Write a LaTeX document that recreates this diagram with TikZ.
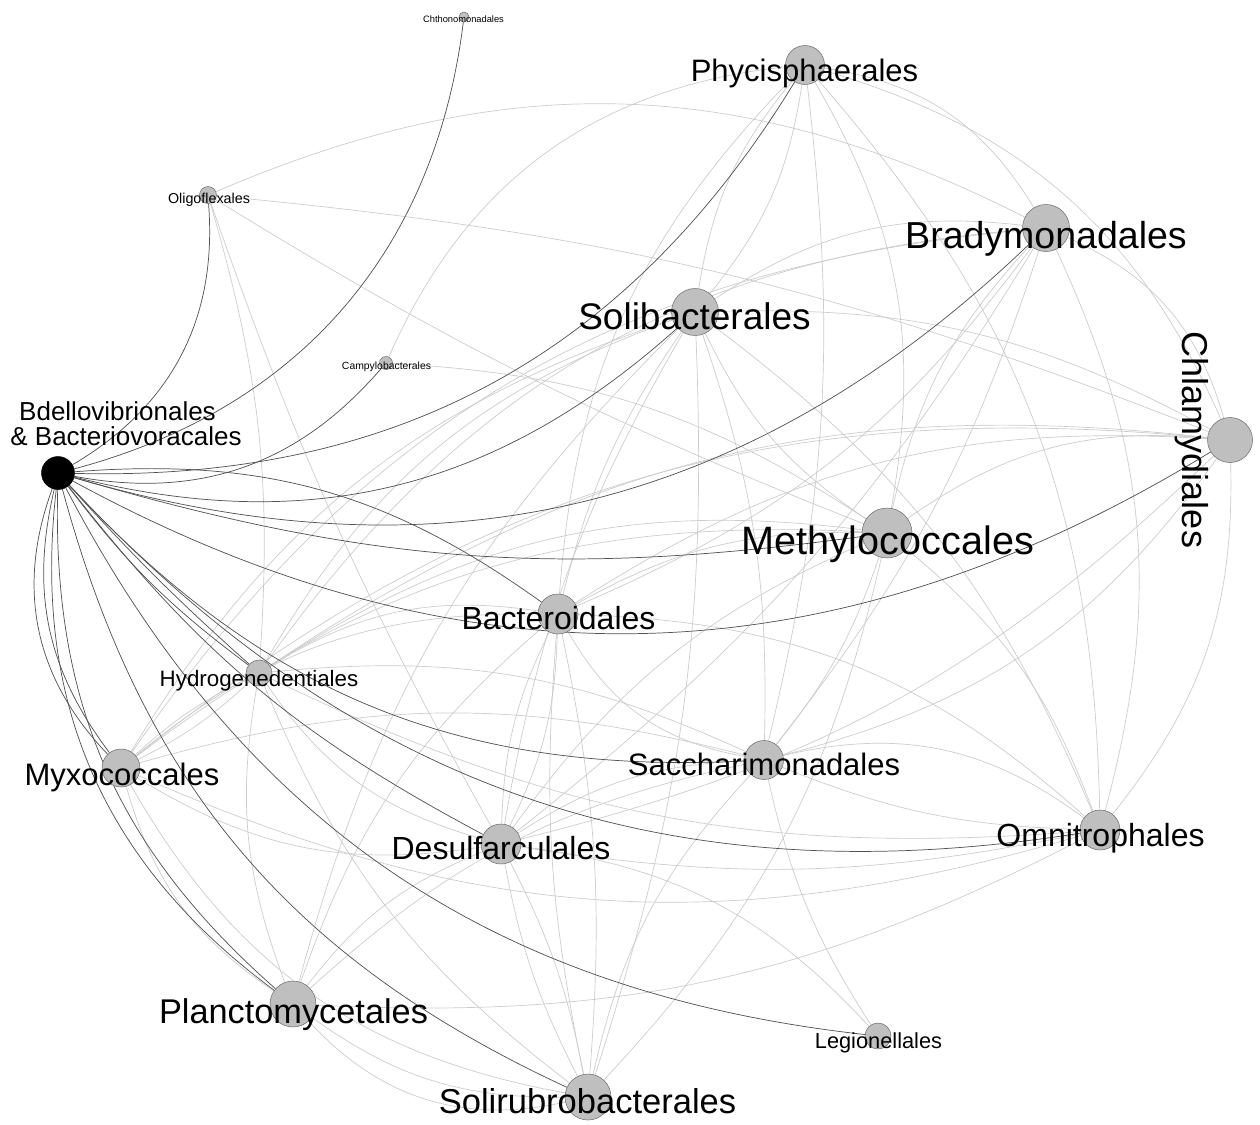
\documentclass[tikz,border=0pt]{standalone}
\usepackage{fontspec}
\setmainfont{Liberation Sans}
\pgfdeclarelayer{bg}
\pgfsetlayers{bg,main}
\tikzset{
  nd/.style={circle, fill=black!25, draw=black!60, line width=0.12pt, inner sep=0pt},
  le/.style={draw=black!20, line width=0.17pt},
  de/.style={draw=black!68, line width=0.18pt},
  lab/.style={anchor=base, inner sep=0pt, text=black}
}
\newcommand{\fs}[1]{\fontsize{#1}{#1}\selectfont}
\begin{document}
\begin{tikzpicture}[x=0.25pt,y=-0.25pt]
\useasboundingbox (0,0) rectangle (1260,1124);
% nodes (circles)
\node[nd, minimum size=2.5pt] (C0) at (464,17) {};
\node[nd, minimum size=9.75pt] (P) at (805,65) {};
\node[nd, minimum size=4.25pt] (O) at (208,195) {};
\node[nd, minimum size=11.75pt] (Br) at (1046,228) {};
\node[nd, minimum size=11.75pt] (So) at (695,312) {};
\node[nd, minimum size=3.25pt] (Ca) at (386,363) {};
\node[nd, minimum size=11.25pt] (Ch) at (1230,440) {};
\node[nd, minimum size=8.25pt, fill=black, draw=black] (B) at (58,473) {};
\node[nd, minimum size=12.5pt] (Me) at (887,533) {};
\node[nd, minimum size=10pt] (Ba) at (558,614) {};
\node[nd, minimum size=6.5pt] (H) at (259,673) {};
\node[nd, minimum size=9.5pt] (My) at (121,768) {};
\node[nd, minimum size=9.75pt] (Sa) at (764,760) {};
\node[nd, minimum size=10pt] (Om) at (1100,830) {};
\node[nd, minimum size=10pt] (D) at (501,844) {};
\node[nd, minimum size=11.5pt] (Pl) at (293,1004) {};
\node[nd, minimum size=6.5pt] (L) at (878,1036) {};
\node[nd, minimum size=11.5pt] (Sr) at (588,1097) {};
\begin{pgfonlayer}{bg}
\fill[white] (0,0) rectangle (1260,1124);
% light edges
\draw[le] (Br) to[bend right=25] (O);
\draw[le] (Ch) to[bend right=25] (P);
\draw[le] (Br) to[bend right=25] (P);
\draw[le] (Ch) to[bend right=25] (Br);
\draw[le] (Om) to[bend right=20] (Ch);
\draw[le] (Om) to[bend right=20] (Br);
\draw[le] (Pl) to[bend right=30] (Sr);
\draw[le] (Pl) to[bend right=18] (Sr);
\draw[le] (My) to[bend right=20] (Pl);
\draw[le] (P) to[bend right=15] (So);
\draw[le] (So) to[bend right=15] (P);
\draw[le] (P) to[bend right=20] (Ba);
\draw[le] (Me) to[bend right=20] (P);
\draw[le] (P) to[bend left=10] (Sa);
\draw[le] (P) to[bend left=20] (Om);
\draw[le] (Ca) to[bend left=30] (P);
\draw[le] (Br) to[bend right=25] (H);
\draw[le] (Br) to[bend right=25] (My);
\draw[le] (Br) to[bend right=20] (So);
\draw[le] (Br) to[bend right=15] (Me);
\draw[le] (Br) to[bend left=10] (Sa);
\draw[le] (Br) to[bend left=15] (Ba);
\draw[le] (Br) to[bend left=10] (D);
\draw[le] (Ch) to[bend right=15] (So);
\draw[le] (Ch) to[bend right=20] (Me);
\draw[le] (Ch) to[bend right=18] (Ba);
\draw[le] (Ch) to[bend right=20] (H);
\draw[le] (Ch) to[bend right=22] (My);
\draw[le] (Ch) to[bend left=15] (D);
\draw[le] (Ch) to[bend left=20] (Sa);
\draw[le] (Me) to[bend right=15] (Ba);
\draw[le] (Me) to[bend left=10] (Sa);
\draw[le] (Om) to[bend right=15] (Me);
\draw[le] (Me) to[bend right=15] (D);
\draw[le] (Me) to[bend right=20] (H);
\draw[le] (Me) to[bend left=15] (Sr);
\draw[le] (Me) to[bend right=20] (My);
\draw[le] (Ba) to[bend right=25] (Sa);
\draw[le] (Ba) to[bend right=12] (D);
\draw[le] (D) to[bend right=12] (Ba);
\draw[le] (Ba) to[bend right=8] (Sr);
\draw[le] (Sr) to[bend right=8] (Ba);
\draw[le] (Ba) to[bend right=20] (H);
\draw[le] (Ba) to[bend right=20] (My);
\draw[le] (Ba) to[bend left=20] (Om);
\draw[le] (Ba) to[bend right=15] (Pl);
\draw[le] (H) to[bend right=8] (My);
\draw[le] (My) to[bend right=8] (H);
\draw[le] (H) to[bend right=20] (D);
\draw[le] (H) to[bend left=15] (Sa);
\draw[le] (H) to[bend right=15] (Sr);
\draw[le] (H) to[bend right=15] (Pl);
\draw[le] (H) to[bend right=15] (Om);
\draw[le] (My) to[bend right=20] (D);
\draw[le] (My) to[bend left=15] (Sa);
\draw[le] (My) to[bend right=25] (Sr);
\draw[le] (My) to[bend right=20] (Om);
\draw[le] (Pl) to[bend right=15] (Om);
\draw[le] (Om) to[bend right=25] (Sa);
\draw[le] (Sa) to[bend right=10] (Om);
\draw[le] (Sa) to[bend right=15] (D);
\draw[le] (Sa) to[bend right=15] (Sr);
\draw[le] (Sa) to[bend right=10] (L);
\draw[le] (D) to[bend left=20] (L);
\draw[le] (Sa) to[bend right=15] (Pl);
\draw[le] (D) to[bend right=8] (Sr);
\draw[le] (Sr) to[bend right=8] (D);
\draw[le] (D) to[bend right=15] (Pl);
\draw[le] (Om) to[bend left=10] (D);
\draw[le] (O) to[bend left=10] (H);
\draw[le] (O) to[bend right=5] (D);
\draw[le] (O) to[bend right=5] (Me);
\draw[le] (O) to[bend left=8] (Ch);
\draw[le] (Ca) to[bend left=15] (Me);
\draw[le] (So) to[bend right=15] (Me);
\draw[le] (So) to[bend right=10] (Ba);
\draw[le] (So) to[bend left=10] (Sa);
\draw[le] (So) to[bend right=10] (D);
\draw[le] (So) to[bend left=10] (Sr);
\draw[le] (So) to[bend right=20] (H);
\draw[le] (So) to[bend right=15] (Pl);
\draw[le] (So) to[bend left=15] (Om);
\draw[le] (So) to[bend right=20] (My);
% dark edges from Bdellovibrionales
\draw[de] (B) to[bend right=34] (C0);
\draw[de] (B) to[bend right=32] (O);
\draw[de] (B) to[bend right=30] (Ca);
\draw[de] (B) to[bend right=30] (P);
\draw[de] (B) to[bend right=28] (So);
\draw[de] (B) to[bend right=30] (Br);
\draw[de] (B) to[bend right=30] (Ch);
\draw[de] (B) to[bend right=12] (Me);
\draw[de] (B) to[bend left=20] (Ba);
\draw[de] (B) to[bend right=8] (H);
\draw[de] (B) to[bend right=3] (H);
\draw[de] (B) to[bend right=25] (Sa);
\draw[de] (B) to[bend right=28] (Om);
\draw[de] (B) to[bend right=12] (D);
\draw[de] (B) to[bend right=28] (L);
\draw[de] (B) to[bend right=25] (Sr);
\draw[de] (B) to[bend right=30] (Pl);
\draw[de] (B) to[bend right=25] (Pl);
\draw[de] (B) to[bend right=32] (My);
\draw[de] (B) to[bend right=25] (My);
\end{pgfonlayer}
% labels
\node[lab, font=\fs{2.33}] (tC0) at (463.5,22) {Chthonomonadales};
\node[lab, font=\fs{7.75}] (tP) at (804.5,81) {Phycisphaerales};
\node[lab, font=\fs{3.58}] (tO) at (209,203) {Oligoflexales};
\node[lab, font=\fs{9.38}] (tBr) at (1046,248) {Bradymonadales};
\node[lab, font=\fs{9.25}] (tSo) at (694.5,329) {Solibacterales};
\node[lab, font=\fs{2.6}] (tCa) at (386.5,369) {Campylobacterales};
\node[lab, font=\fs{9}, rotate=-90] (tCh) at (1182,440) {Chlamydiales};
\node[lab, font=\fs{6.5}] (tB1) at (117.5,420) {Bdellovibrionales};
\node[lab, font=\fs{6.5}] (tB2) at (126,445) {\& Bacteriovoracales};
\node[lab, font=\fs{9.9}] (tMe) at (887.5,554) {Methylococcales};
\node[lab, font=\fs{8}] (tBa) at (558.5,629) {Bacteroidales};
\node[lab, font=\fs{5.58}] (tH) at (259,686) {Hydrogenedentiales};
\node[lab, font=\fs{7.75}] (tMy) at (122,785) {Myxococcales};
\node[lab, font=\fs{7.75}] (tSa) at (764,775) {Saccharimonadales};
\node[lab, font=\fs{8}] (tOm) at (1100.5,846) {Omnitrophales};
\node[lab, font=\fs{8}] (tD) at (501,859) {Desulfarculales};
\node[lab, font=\fs{8.58}] (tPl) at (293.5,1023) {Planctomycetales};
\node[lab, font=\fs{5.45}] (tL) at (878.5,1048) {Legionellales};
\node[lab, font=\fs{8.63}] (tSr) at (587.5,1113) {Solirubrobacterales};
\end{tikzpicture}
\end{document}
